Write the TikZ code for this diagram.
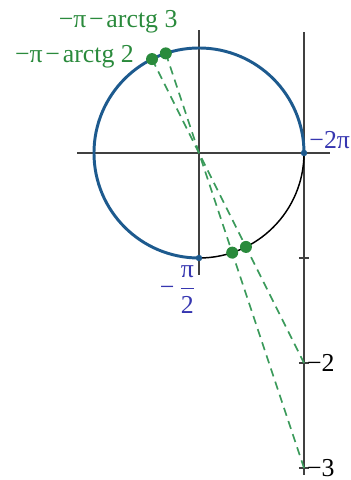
\documentclass[tikz,border=0pt]{standalone}
\usepackage{amsmath}
\usepackage{fontspec}
\setmainfont{Liberation Serif}
\usetikzlibrary{calc}
\definecolor{circblue}{HTML}{1D5A8E}
\definecolor{labblue}{HTML}{3636B0}
\definecolor{dotgreen}{HTML}{2A8A3C}
\definecolor{dashgreen}{HTML}{3A9A5A}
\tikzset{
  axis/.style={line width=0.75pt, black!75},
  thickarc/.style={line width=1.6pt, circblue},
  thinarc/.style={line width=0.8pt, black},
  dashln/.style={line width=0.9pt, dashgreen, dash pattern=on 4.5pt off 3pt},
  bigdot/.style={circle, fill=dotgreen, inner sep=0pt, minimum size=6.5pt},
  smalldot/.style={circle, fill=circblue, inner sep=0pt, minimum size=3.5pt},
  glab/.style={text=dotgreen, font=\fontsize{14}{16}\selectfont, inner sep=0pt},
  blab/.style={text=labblue, font=\fontsize{14}{16}\selectfont, inner sep=0pt},
  klab/.style={text=black, font=\fontsize{14}{16}\selectfont, inner sep=0pt},
}
\begin{document}
\begin{tikzpicture}[x=2cm,y=2cm]
\useasboundingbox (-1.895,-3.114) rectangle (1.438,1.457);
% axes
\coordinate (xl) at (-1.16,0);
\coordinate (xr) at (1.25,0);
\coordinate (yt) at (0,1.17);
\coordinate (yb) at (0,-1.16);
\coordinate (tt) at (1,1.15);
\coordinate (tb) at (1,-3.07);
\draw[axis] (xl) -- (xr);
\draw[axis] (yt) -- (yb);
\draw[axis] (tt) -- (tb);
\foreach \k in {1,2,3}{
  \coordinate (tk\k) at (1,-\k);
  \draw[axis] ($(tk\k)+(-0.05,0)$) -- ($(tk\k)+(0.05,0)$);
}
% circle
\coordinate (O) at (0,0);
\draw[thinarc] (-90:1) arc (-90:0:1);
\draw[thickarc] (0:1) arc (0:270:1);
% points
\pgfmathsetmacro{\aa}{180-atan(2)}
\pgfmathsetmacro{\ab}{180-atan(3)}
\coordinate (P2) at (\aa:1);
\coordinate (P3) at (\ab:1);
\coordinate (Q2) at (\aa-180:1);
\coordinate (Q3) at (\ab-180:1);
\draw[dashln] (P2) -- (tk2);
\draw[dashln] (P3) -- (tk3);
\node[bigdot] (d1) at (P2) {};
\node[bigdot] (d2) at (P3) {};
\node[bigdot] (d3) at (Q2) {};
\node[bigdot] (d4) at (Q3) {};
\node[smalldot] (s1) at (1,0) {};
\node[smalldot] (s2) at (0,-1) {};
% labels
\node[glab] (l3) at (-0.77,1.25) {−π\kern1.5pt−\kern1.5pt arctg 3};
\node[glab] (l2) at (-1.186,0.914) {−π\kern1.5pt−\kern1.5pt arctg 2};
\node[blab] (l2pi) at (1.245,0.12) {−2π};
\node[blab] (lpi2) at (-0.2,-1.3) {−\,$\dfrac{\text{π}}{\text{2}}$};
\node[klab] (lm2) at (1.16,-2) {−2};
\node[klab] (lm3) at (1.16,-3) {−3};
\end{tikzpicture}
\end{document}
